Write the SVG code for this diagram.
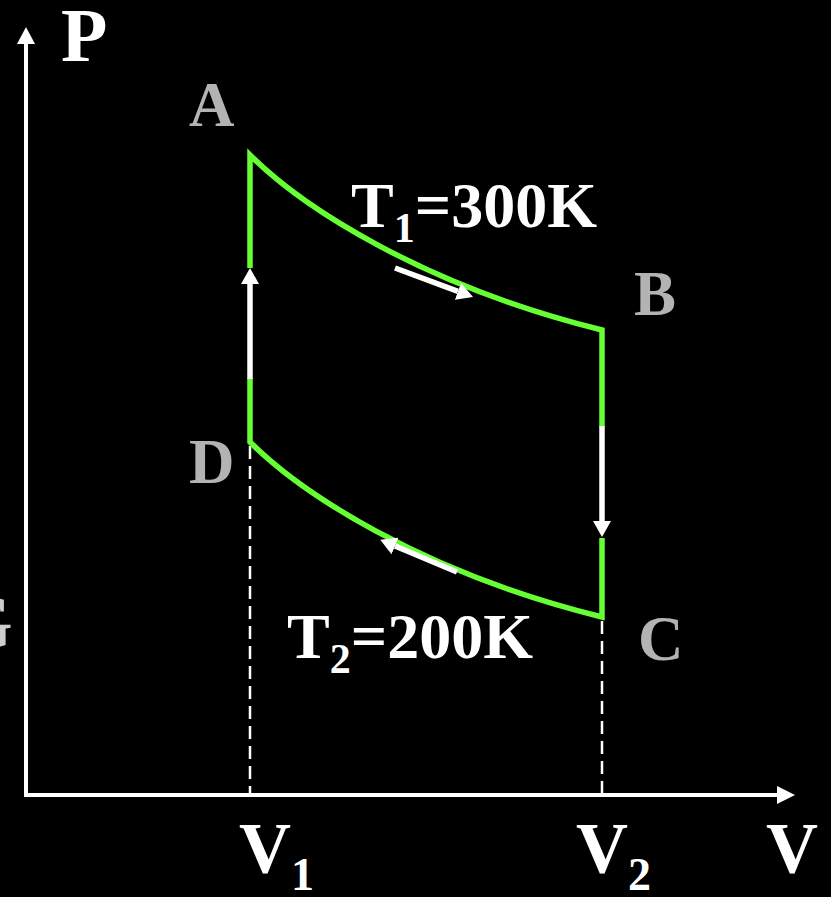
<svg xmlns="http://www.w3.org/2000/svg" width="831" height="897" viewBox="0 0 831 897">
  <defs>
    <style>
      .axis { stroke: #ffffff; stroke-width: 4; fill: none; }
      .head { fill: #ffffff; }
      .cycle { stroke: #66ff33; stroke-width: 5.5; fill: none; stroke-linejoin: miter; }
      .flow { stroke: #ffffff; stroke-width: 5.5; fill: none; }
      .dash { stroke: #ffffff; stroke-width: 2.5; stroke-dasharray: 13 7; fill: none; }
      .lbl { font-family: "Liberation Serif", "Times New Roman", serif; font-weight: bold; }
      .white { fill: #ffffff; }
      .grey { fill: #b3b3b3; }
    </style>
    <marker id="flowHead" viewBox="0 0 16 18" refX="0" refY="9" markerWidth="16" markerHeight="18" markerUnits="userSpaceOnUse" orient="auto">
      <path d="M0,0 L16,9 L0,18 Z" fill="#ffffff"/>
    </marker>
  </defs>
  <rect x="0" y="0" width="831" height="897" fill="#000000"/>

  <g id="axes">
    <line class="axis" x1="26" y1="797" x2="26" y2="42"/>
    <polygon class="head" points="26,27 17,44 35,44"/>
    <line class="axis" x1="24" y1="795" x2="779" y2="795"/>
    <polygon class="head" points="795,795 777,786 777,804"/>
  </g>

  <g id="connectors">
    <line class="dash" x1="250" y1="446" x2="250" y2="793"/>
    <line class="dash" x1="602" y1="621" x2="602" y2="793"/>
    <path class="cycle" d="M250,268 L250,155 C300,205 420,285 602,330 L602,427"/>
    <path class="cycle" d="M602,538 L602,617 C420,572 300,492 250,442 L250,378"/>
    <line class="flow" x1="250" y1="379" x2="250" y2="284" marker-end="url(#flowHead)"/>
    <line class="flow" x1="602" y1="426" x2="602" y2="521" marker-end="url(#flowHead)"/>
    <line class="flow" x1="395" y1="268" x2="458" y2="291.4" marker-end="url(#flowHead)"/>
    <line class="flow" x1="457" y1="572" x2="395" y2="546" marker-end="url(#flowHead)"/>
  </g>

  <g id="node-P"><text class="lbl white" x="61" y="61" font-size="76">P</text></g>
  <g id="node-A"><text class="lbl grey" x="189" y="126" font-size="63">A</text></g>
  <g id="node-B"><text class="lbl grey" x="634" y="315" font-size="63">B</text></g>
  <g id="node-C"><text class="lbl grey" x="638" y="660" font-size="63">C</text></g>
  <g id="node-D"><text class="lbl grey" x="189" y="483" font-size="63">D</text></g>
  <g id="label-T1"><text class="lbl white" x="351" y="227" font-size="64">T<tspan font-size="42" dy="15">1</tspan><tspan dy="-15">=300K</tspan></text></g>
  <g id="label-T2"><text class="lbl white" x="287" y="658" font-size="64">T<tspan font-size="42" dy="15">2</tspan><tspan dy="-15">=200K</tspan></text></g>
  <g id="label-V1"><text class="lbl white" x="239" y="872" font-size="72">V<tspan font-size="46" dy="18">1</tspan></text></g>
  <g id="label-V2"><text class="lbl white" x="576" y="872" font-size="72">V<tspan font-size="46" dy="18">2</tspan></text></g>
  <g id="label-V"><text class="lbl white" x="766" y="872" font-size="72">V</text></g>
  <g id="edge-fragment"><text class="lbl" x="-48" y="648" font-size="78" fill="#cccccc">G</text></g>
</svg>
